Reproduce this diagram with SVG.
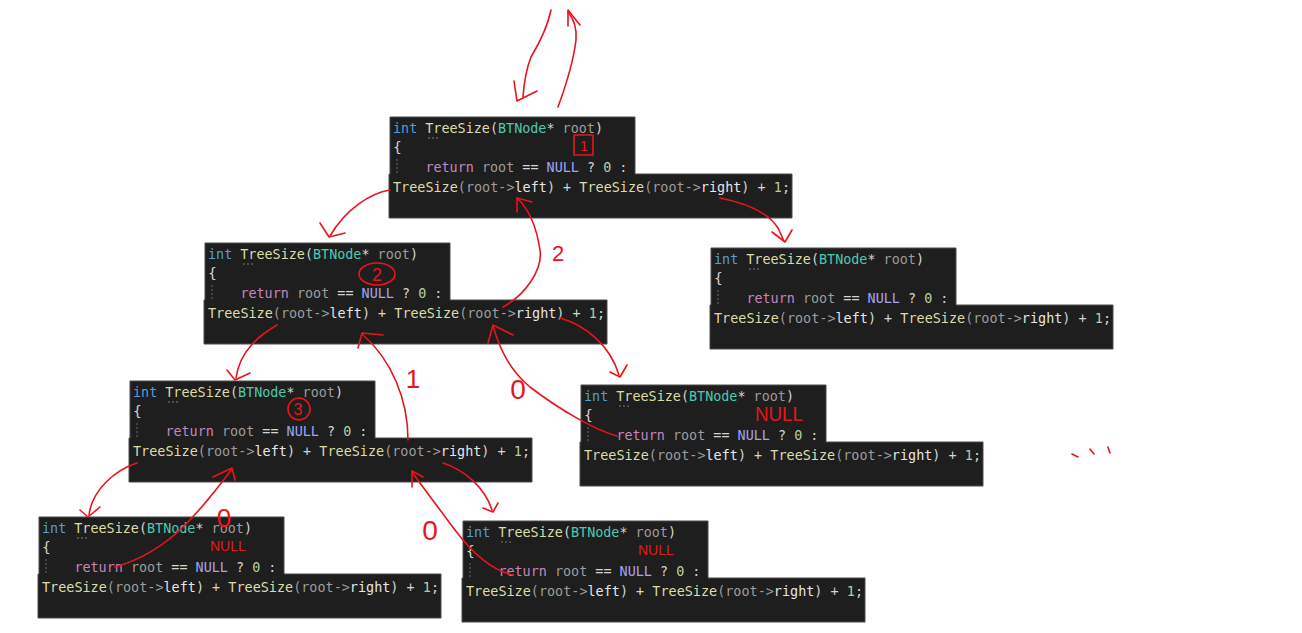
<svg xmlns="http://www.w3.org/2000/svg" xmlns:xlink="http://www.w3.org/1999/xlink" width="1302" height="633" viewBox="0 0 1302 633">
<style>
.bg{fill:#1e1e1e;stroke:#4a4a4a;stroke-width:1}
.c{font-family:"DejaVu Sans Mono","Liberation Mono",monospace;font-size:14.6px;fill:#d4d4d4}
.k{fill:#569cd6}.f{fill:#dcdcaa}.t{fill:#4ec9b0}.p{fill:#9d9d9d}.r{fill:#c586c0}.n{fill:#a5a5f0}.num{fill:#b5cea8}.w{fill:#e6e6e6}
.dot{fill:#8a8a8a}
.guide{stroke:#6a6a6a;stroke-width:1;stroke-dasharray:2 2}
.ink{fill:none;stroke:#e8141c;stroke-width:1.6;stroke-linecap:round;stroke-linejoin:round}
.hand{font-family:"Liberation Sans","DejaVu Sans",sans-serif;fill:#e8141c;text-anchor:middle}
.null{font-family:"Liberation Sans","DejaVu Sans",sans-serif;fill:#e01b1b;font-size:14px}
</style>
<defs>
<g id="code">
<path class="bg" d="M0,0H245V57H402V101H-1V57H0Z"/>
<text class="c" x="3" y="16" textLength="210" lengthAdjust="spacingAndGlyphs"><tspan class="k">int</tspan> <tspan class="f">TreeSize</tspan>(<tspan class="t">BTNode</tspan>* <tspan class="p">root</tspan>)</text>
<circle class="dot" cx="39" cy="21" r="0.8"/><circle class="dot" cx="43" cy="21" r="0.8"/><circle class="dot" cx="47" cy="21" r="0.8"/>
<text class="c" x="3" y="35">{</text>
<line class="guide" x1="7" y1="42" x2="7" y2="58"/>
<text class="c" x="35.4" y="55" textLength="202" lengthAdjust="spacingAndGlyphs"><tspan class="r">return</tspan> <tspan class="p">root</tspan> == <tspan class="n">NULL</tspan> ? <tspan class="num">0</tspan> :</text>
<text class="c" x="3" y="75" textLength="397" lengthAdjust="spacingAndGlyphs"><tspan class="f">TreeSize</tspan><tspan class="p">(root-&gt;</tspan><tspan class="w">left</tspan>) + <tspan class="f">TreeSize</tspan><tspan class="p">(root-&gt;</tspan><tspan class="w">right</tspan>) + <tspan class="num">1</tspan>;</text>
</g>
</defs>
<rect width="1302" height="633" fill="#ffffff"/>

<g id="call1"><use xlink:href="#code" href="#code" transform="translate(390,117)"/>
<rect class="ink" x="574" y="135" width="19" height="20"/><text class="hand" x="584" y="151" font-size="14">1</text></g>
<g id="call2"><use xlink:href="#code" href="#code" transform="translate(205,243)"/>
<ellipse class="ink" cx="377" cy="274" rx="18" ry="11"/><text class="hand" x="377" y="281" font-size="18">2</text></g>
<g id="call3"><use xlink:href="#code" href="#code" transform="translate(711,248)"/></g>
<g id="call4"><use xlink:href="#code" href="#code" transform="translate(130,381)"/>
<ellipse class="ink" cx="299" cy="409" rx="11" ry="11"/><text class="hand" x="298" y="415" font-size="16">3</text></g>
<g id="call5"><use xlink:href="#code" href="#code" transform="translate(581,385)"/>
<text class="hand" x="779" y="421" font-size="20" textLength="48" lengthAdjust="spacingAndGlyphs">NULL</text></g>
<g id="call6"><use xlink:href="#code" href="#code" transform="translate(39,517)"/>
<text class="null" x="210" y="551">NULL</text></g>
<g id="call7"><use xlink:href="#code" href="#code" transform="translate(463,521)"/>
<text class="null" x="638" y="555">NULL</text></g>

<g id="connectors">
<path class="ink" d="M551,10 C548,25 540,42 531,57 C526,70 524,82 523,97"/>
<path class="ink" d="M514,81 L517,101 L537,91"/>
<path class="ink" d="M558,107 C565,88 573,65 576,40 C577,28 573,18 568,12"/>
<path class="ink" d="M568,26 L568,10 L580,25"/>
<path class="ink" d="M390,190 C370,193 345,210 330,236"/>
<path class="ink" d="M320,223 L329,237 L345,233"/>
<path class="ink" d="M503,307 C525,295 543,270 540,250 C537,230 530,210 517,198"/>
<path class="ink" d="M517,212 L517,198 L532,202"/>
<text class="hand" x="558" y="261" font-size="22">2</text>
<path class="ink" d="M720,198 C745,203 768,212 778,228 L784,241"/>
<path class="ink" d="M772,232 L785,242 L792,230"/>
<path class="ink" d="M277,325 C260,335 240,350 236,378"/>
<path class="ink" d="M227,370 L235,380 L250,373"/>
<path class="ink" d="M408,440 C408,400 392,360 362,334"/>
<path class="ink" d="M358,348 L362,333 L383,335"/>
<text class="hand" x="413" y="388" font-size="26">1</text>
<path class="ink" d="M560,318 C585,325 610,345 619,375"/>
<path class="ink" d="M610,372 L620,377 L627,365"/>
<path class="ink" d="M617,436 C595,430 560,410 530,387 C510,370 500,350 493,326"/>
<path class="ink" d="M488,343 L493,325 L513,335"/>
<text class="hand" x="518" y="399" font-size="28">0</text>
<path class="ink" d="M137,463 C115,470 92,490 89,515"/>
<path class="ink" d="M80,510 L88,517 L100,507"/>
<path class="ink" d="M115,567 C140,560 165,545 185,525 C205,505 220,485 232,469"/>
<path class="ink" d="M213,477 L232,468 L235,480"/>
<text class="hand" x="224" y="527" font-size="26">0</text>
<path class="ink" d="M443,463 C465,470 485,488 492,510"/>
<path class="ink" d="M483,508 L493,512 L498,503"/>
<path class="ink" d="M513,575 C490,570 470,550 455,530 C440,510 425,490 412,472"/>
<path class="ink" d="M412,487 L412,471 L423,477"/>
<text class="hand" x="430" y="540" font-size="28">0</text>
<path class="ink" d="M1072,454 L1078,457 M1090,449 L1094,454 M1108,447 L1110,453"/>
</g>
</svg>
